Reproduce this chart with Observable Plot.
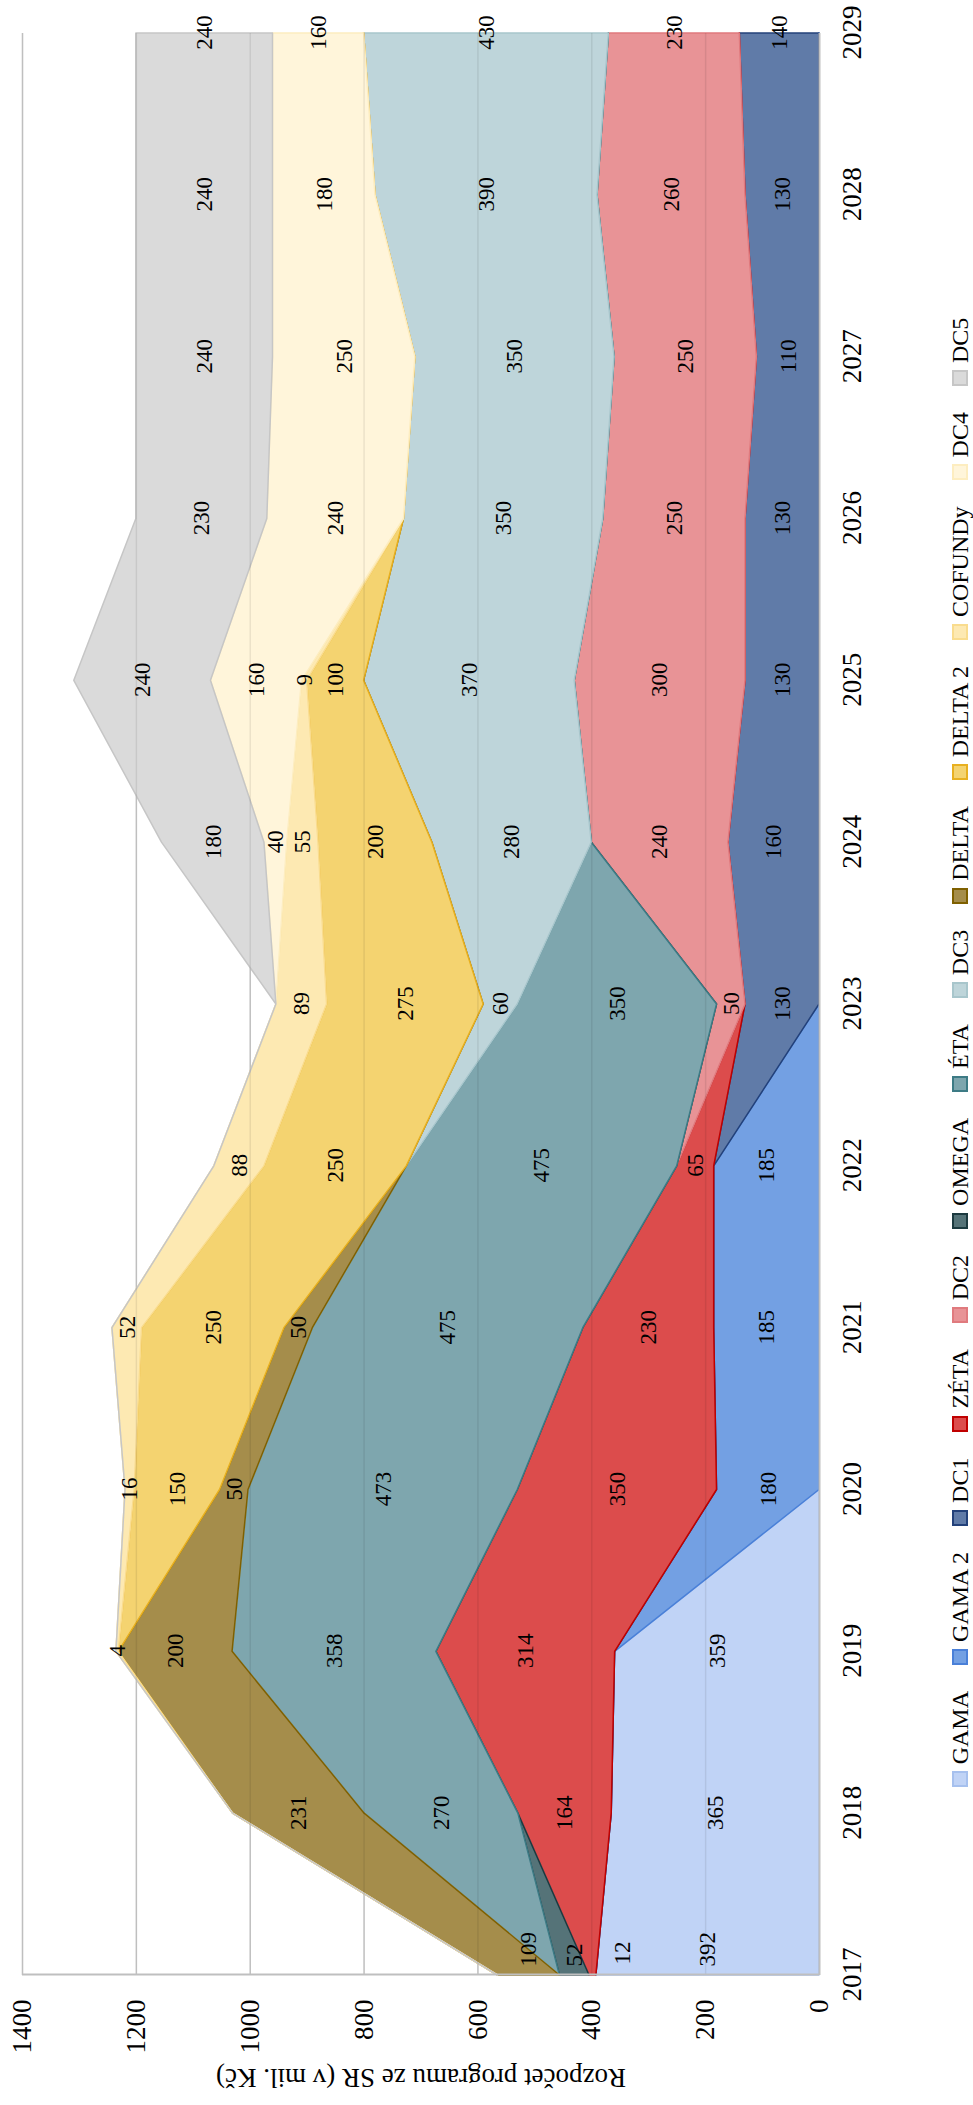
<!DOCTYPE html>
<html>
<head>
<meta charset="utf-8">
<script src="https://cdn.jsdelivr.net/npm/d3@7"></script>
<script src="https://cdn.jsdelivr.net/npm/@observablehq/plot@0.6"></script>
<style>
  html, body { margin: 0; padding: 0; background: #fff; overflow: hidden; }
  #wrap { position: absolute; left: 0; top: 0; width: 2105px; height: 973px;
          transform-origin: 0 0; transform: translate(0, 2105px) rotate(-90deg); background: #fff; }
  #chart { position: absolute; left: 0; top: 0; }
  #legend { position: absolute; left: 0; top: 945px; width: 2105px; height: 30px;
            display: flex; justify-content: center; align-items: center;
            font-family: "Liberation Serif", serif; font-size: 24px; color: #000; }
  .item { display: flex; align-items: center; margin-right: 26px; }
  .item:last-child { margin-right: 0; }
  .sw { width: 12px; height: 12px; margin-right: 7px; border-width: 2px; border-style: solid; }
</style>
</head>
<body>
<div id="wrap">
  <div id="chart"></div>
  <div id="legend"></div>
</div>
<script>
const years = [2017, 2018, 2019, 2020, 2021, 2022, 2023, 2024, 2025, 2026, 2027, 2028, 2029];
const seriesNames = ["GAMA", "GAMA 2", "DC1", "ZÉTA", "DC2", "OMEGA", "ÉTA", "DC3", "DELTA", "DELTA 2", "COFUNDy", "DC4", "DC5"];
const GAMA    = [392, 365, 359,   0,   0,   0,   0,   0,   0,   0,   0,   0,   0];
const GAMA2   = [  0,   0,   0, 180, 185, 185,   0,   0,   0,   0,   0,   0,   0];
const DC1     = [  0,   0,   0,   0,   0,   0, 130, 160, 130, 130, 110, 130, 140];
const ZETA    = [ 12, 164, 314, 350, 230,  65,   0,   0,   0,   0,   0,   0,   0];
const DC2     = [  0,   0,   0,   0,   0,   0,  50, 240, 300, 250, 250, 260, 230];
const OMEGA   = [ 52,   0,   0,   0,   0,   0,   0,   0,   0,   0,   0,   0,   0];
const ETA     = [  0, 270, 358, 473, 475, 475, 350,   0,   0,   0,   0,   0,   0];
const DC3     = [  0,   0,   0,   0,   0,   0,  60, 280, 370, 350, 350, 390, 430];
const DELTA   = [109, 231, 200,  50,  50,   0,   0,   0,   0,   0,   0,   0,   0];
const DELTA2  = [  0,   0,   0, 150, 250, 250, 275, 200, 100,   0,   0,   0,   0];
const COFUNDY = [  0,   0,   4,  16,  52,  88,  89,  55,   9,   0,   0,   0,   0];
const DC4     = [  0,   0,   0,   0,   0,   0,   0,  40, 160, 240, 250, 180, 160];
const DC5     = [  0,   0,   0,   0,   0,   0,   0, 180, 240, 230, 240, 240, 240];
const valueTicks = [0, 200, 400, 600, 800, 1000, 1200, 1400];
const gridTicks = [200, 400, 600, 800, 1000, 1200, 1400];
const axisTitle = "Rozpočet programu ze SR (v mil. Kč)";

const seriesValues = [GAMA, GAMA2, DC1, ZETA, DC2, OMEGA, ETA, DC3, DELTA, DELTA2, COFUNDY, DC4, DC5];
const fills   = ["#c0d3f6", "#73a0e3", "#607ba8", "#dc4c4c", "#e89396", "#557378", "#7ea6ae", "#bed5da", "#a58d4b", "#f4d370", "#fde9b2", "#fff5da", "#dadada"];
const strokes = ["#a6c0ee", "#4a80d8", "#23417a", "#c00000", "#e07a7e", "#1c3a40", "#3d7b85", "#a8c6cc", "#7f6000", "#e8b020", "#f9dc8e", "#fdedc0", "#c6c6c6"];

// long table for the library
const rows = [];
seriesNames.forEach((s, si) => {
  years.forEach((yr, i) => rows.push({series: s, year: yr, value: seriesValues[si][i], fill: fills[si], stroke: strokes[si]}));
});

// label positions: middle of each stacked band (only non-zero values)
const labels = [];
years.forEach((yr, i) => {
  let base = 0;
  seriesNames.forEach((s, si) => {
    const v = seriesValues[si][i];
    if (v > 0) labels.push({series: s, year: yr, mid: base + v / 2, text: String(v)});
    base += v;
  });
});
const firstYear = labels.filter(d => d.year === 2017 && d.series !== "ZÉTA");
const firstYearZeta = labels.filter(d => d.year === 2017 && d.series === "ZÉTA");
const otherYears = labels.filter(d => d.year !== 2017);
const labelFont = {fontFamily: "'Liberation Serif', serif", fontSize: 23, fill: "#000"};

const plot = Plot.plot({
  width: 2105,
  height: 930,
  marginLeft: 130,
  marginRight: 33,
  marginTop: 22,
  marginBottom: 111,
  style: {fontFamily: "'Liberation Serif', serif", fontSize: "27px", color: "#000", background: "#fff"},
  x: {domain: [2017, 2029], label: null},
  y: {domain: [0, 1400], label: null},
  marks: [
    Plot.ruleY(gridTicks, {stroke: "#d0d0d0", strokeWidth: 1.5}),
    Plot.areaY(rows, Plot.stackY({x: "year", y: "value", z: "series", fill: "fill", stroke: "stroke", strokeWidth: 1.5, curve: "linear"})),
    Plot.ruleY(gridTicks, {stroke: "#000", strokeOpacity: 0.08, strokeWidth: 1.5}),
    Plot.ruleX([2017], {stroke: "#bfbfbf", strokeWidth: 2}),
    Plot.ruleY([0], {stroke: "#bfbfbf", strokeWidth: 2}),
    Plot.axisY({ticks: valueTicks, tickSize: 0, tickPadding: 25, tickFormat: d => String(d),
                label: axisTitle, labelAnchor: "center", labelOffset: 114, labelArrow: "none"}),
    Plot.axisX({ticks: years, tickSize: 0, tickPadding: 22, tickFormat: d => String(d), label: null}),
    Plot.text(firstYear, {x: "year", y: "mid", text: "text", textAnchor: "start", dx: 8, ...labelFont}),
    Plot.text(firstYearZeta, {x: "year", y: "mid", text: "text", textAnchor: "start", dx: 10, dy: 30, ...labelFont}),
    Plot.text(otherYears, {x: "year", y: "mid", text: "text", ...labelFont})
  ]
});
document.getElementById("chart").appendChild(plot);

const legend = document.getElementById("legend");
seriesNames.forEach((s, si) => {
  const item = document.createElement("div");
  item.className = "item";
  const sw = document.createElement("span");
  sw.className = "sw";
  sw.style.background = fills[si];
  sw.style.borderColor = strokes[si];
  const t = document.createElement("span");
  t.textContent = s;
  item.appendChild(sw);
  item.appendChild(t);
  legend.appendChild(item);
});
</script>
</body>
</html>
